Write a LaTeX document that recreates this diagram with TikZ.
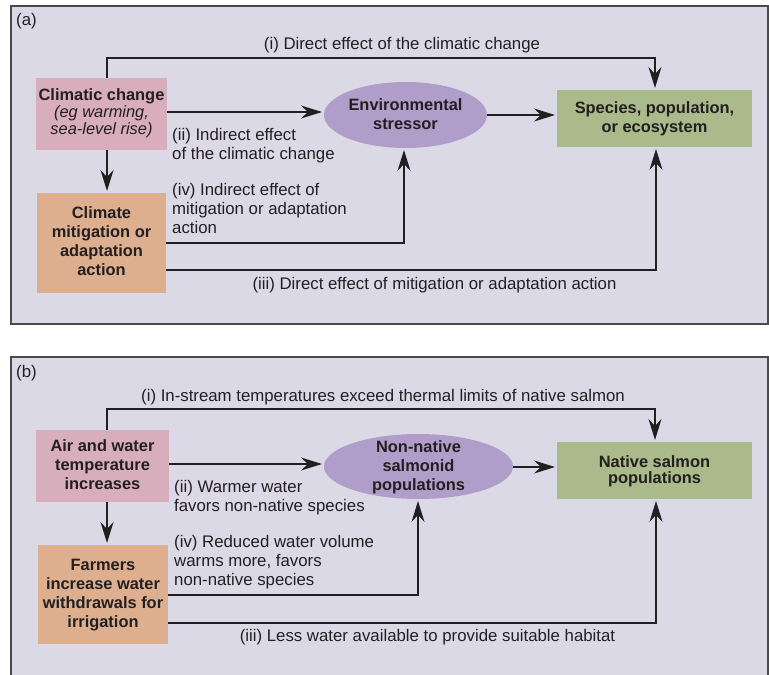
\documentclass[tikz,border=0pt]{standalone}
\usepackage{fontspec}
\setmainfont{Liberation Sans}
\usetikzlibrary{arrows.meta,shapes.geometric}
\definecolor{panelbg}{HTML}{DCD9E7}
\definecolor{framecol}{HTML}{4A4A4A}
\definecolor{pinkbox}{HTML}{D9AEBC}
\definecolor{tanbox}{HTML}{DDAF8F}
\definecolor{purpell}{HTML}{B09DC9}
\definecolor{greenbox}{HTML}{AABA8A}
\definecolor{txt}{HTML}{231F20}
\tikzset{
  panel/.style={fill=panelbg,draw=framecol,line width=1.4pt},
  boxnode/.style={inner sep=0pt,outer sep=0pt,text=txt,font=\fontsize{16.4}{18.7}\selectfont\bfseries,align=center},
  ellnode/.style={ellipse,inner sep=0pt,outer sep=0pt,fill=purpell},
  lbl/.style={inner sep=0pt,text=txt,font=\fontsize{16.8}{18.9}\selectfont,align=left},
  conn/.style={draw=txt,line width=1.2pt,-{Stealth[length=21pt,width=13pt,inset=7pt]},shorten >=2pt},
}
\begin{document}
\begin{tikzpicture}[x=1pt,y=-1pt]
\clip (0,0) rectangle (769,675);
\fill[white] (0,0) rectangle (769,675);
% ---------- panel (a)
\draw[panel] (11,6) rectangle (768,324);
\node[lbl,anchor=west] (la) at (16,21) {(a)};
\node[boxnode,fill=pinkbox,minimum width=131pt,minimum height=72pt] (cc) at (101.5,114) {};
\node[boxnode,anchor=base] (cct) at (101.5,100) {Climatic change};
\node[boxnode,anchor=base,font=\fontsize{16.4}{15}\selectfont\itshape] (cci) at (101.5,134) {(eg warming,\\sea-level rise)};
\node[boxnode,fill=tanbox,minimum width=129pt,minimum height=100pt] (mit) at (101.5,243) {};
\node[boxnode,anchor=base] (mitt) at (101.5,275) {Climate\\mitigation or\\adaptation\\action};
\node[ellnode,minimum width=163pt,minimum height=66pt] (env) at (405.5,115) {};
\node[boxnode,anchor=base,font=\fontsize{16.4}{19}\selectfont\bfseries] (envt) at (405.5,129.5) {Environmental\\stressor};
\node[boxnode,fill=greenbox,minimum width=195pt,minimum height=57pt] (sp) at (654.5,118.5) {};
\node[boxnode,anchor=base,font=\fontsize{16.4}{18.5}\selectfont\bfseries] (spt) at (654.5,132) {Species, population,\\or ecosystem};
% connectors (a)
\coordinate (ai1) at (107,58);
\coordinate (ai2) at (655,58);
\draw[conn] (cc.north -| ai1) -- (ai1) -- (ai2) -- (sp.north -| ai2);
\node[lbl,anchor=base] (lai) at (402,49) {(i) Direct effect of the climatic change};
\draw[conn] (cc.east |- 0,112) -- (env.west |- 0,112);
\node[lbl,anchor=base west] (laii) at (172,159) {(ii) Indirect effect\\of the climatic change};
\draw[conn] (cc.south -| ai1) -- (mit.north -| ai1);
\coordinate (aiv) at (404,243);
\draw[conn] (mit.east |- aiv) -- (aiv) -- (env.south -| aiv);
\node[lbl,anchor=base west] (laiv) at (172,233) {(iv) Indirect effect of\\mitigation or adaptation\\action};
\coordinate (aiii) at (656,270);
\draw[conn] (mit.east |- aiii) -- (aiii) -- (sp.south -| aiii);
\node[lbl,anchor=base] (laiii) at (434.5,289) {(iii) Direct effect of mitigation or adaptation action};
\draw[conn] (env.east |- 0,115) -- (sp.west |- 0,115);
% ---------- panel (b)
\draw[panel] (11,357) rectangle (768,700);
\node[lbl,anchor=west] (lb) at (16,373) {(b)};
\node[boxnode,fill=pinkbox,minimum width=133pt,minimum height=72pt] (air) at (102.5,466) {};
\node[boxnode,anchor=base] (airt) at (102.5,489) {Air and water\\temperature\\increases};
\node[boxnode,fill=tanbox,minimum width=130pt,minimum height=99pt] (farm) at (103,594.5) {};
\node[boxnode,anchor=base] (farmt) at (103,627) {Farmers\\increase water\\withdrawals for\\irrigation};
\node[ellnode,minimum width=189pt,minimum height=65pt] (nn) at (418.5,466.5) {};
\node[boxnode,anchor=base] (nnt) at (418.5,490) {Non-native\\salmonid\\populations};
\node[boxnode,fill=greenbox,minimum width=195pt,minimum height=57pt] (ns) at (654.5,470.5) {};
\node[boxnode,anchor=base,font=\fontsize{16.4}{15.6}\selectfont\bfseries] (nst) at (654.5,483) {Native salmon\\populations};
% connectors (b)
\coordinate (bi1) at (107,409);
\coordinate (bi2) at (655,409);
\draw[conn] (air.north -| bi1) -- (bi1) -- (bi2) -- (ns.north -| bi2);
\node[lbl,anchor=base] (lbi) at (383,401) {(i) In-stream temperatures exceed thermal limits of native salmon};
\draw[conn] (air.east |- 0,464) -- (nn.west |- 0,464);
\node[lbl,anchor=base west] (lbii) at (174,511) {(ii) Warmer water\\favors non-native species};
\draw[conn] (air.south -| bi1) -- (farm.north -| bi1);
\coordinate (biv) at (418,595);
\draw[conn] (farm.east |- biv) -- (biv) -- (nn.south -| biv);
\node[lbl,anchor=base west] (lbiv) at (174,585) {(iv) Reduced water volume\\warms more, favors\\non-native species};
\coordinate (biii) at (656,623);
\draw[conn] (farm.east |- biii) -- (biii) -- (ns.south -| biii);
\node[lbl,anchor=base] (lbiii) at (427.5,641) {(iii) Less water available to provide suitable habitat};
\draw[conn] (nn.east |- 0,467) -- (ns.west |- 0,467);
\end{tikzpicture}
\end{document}
